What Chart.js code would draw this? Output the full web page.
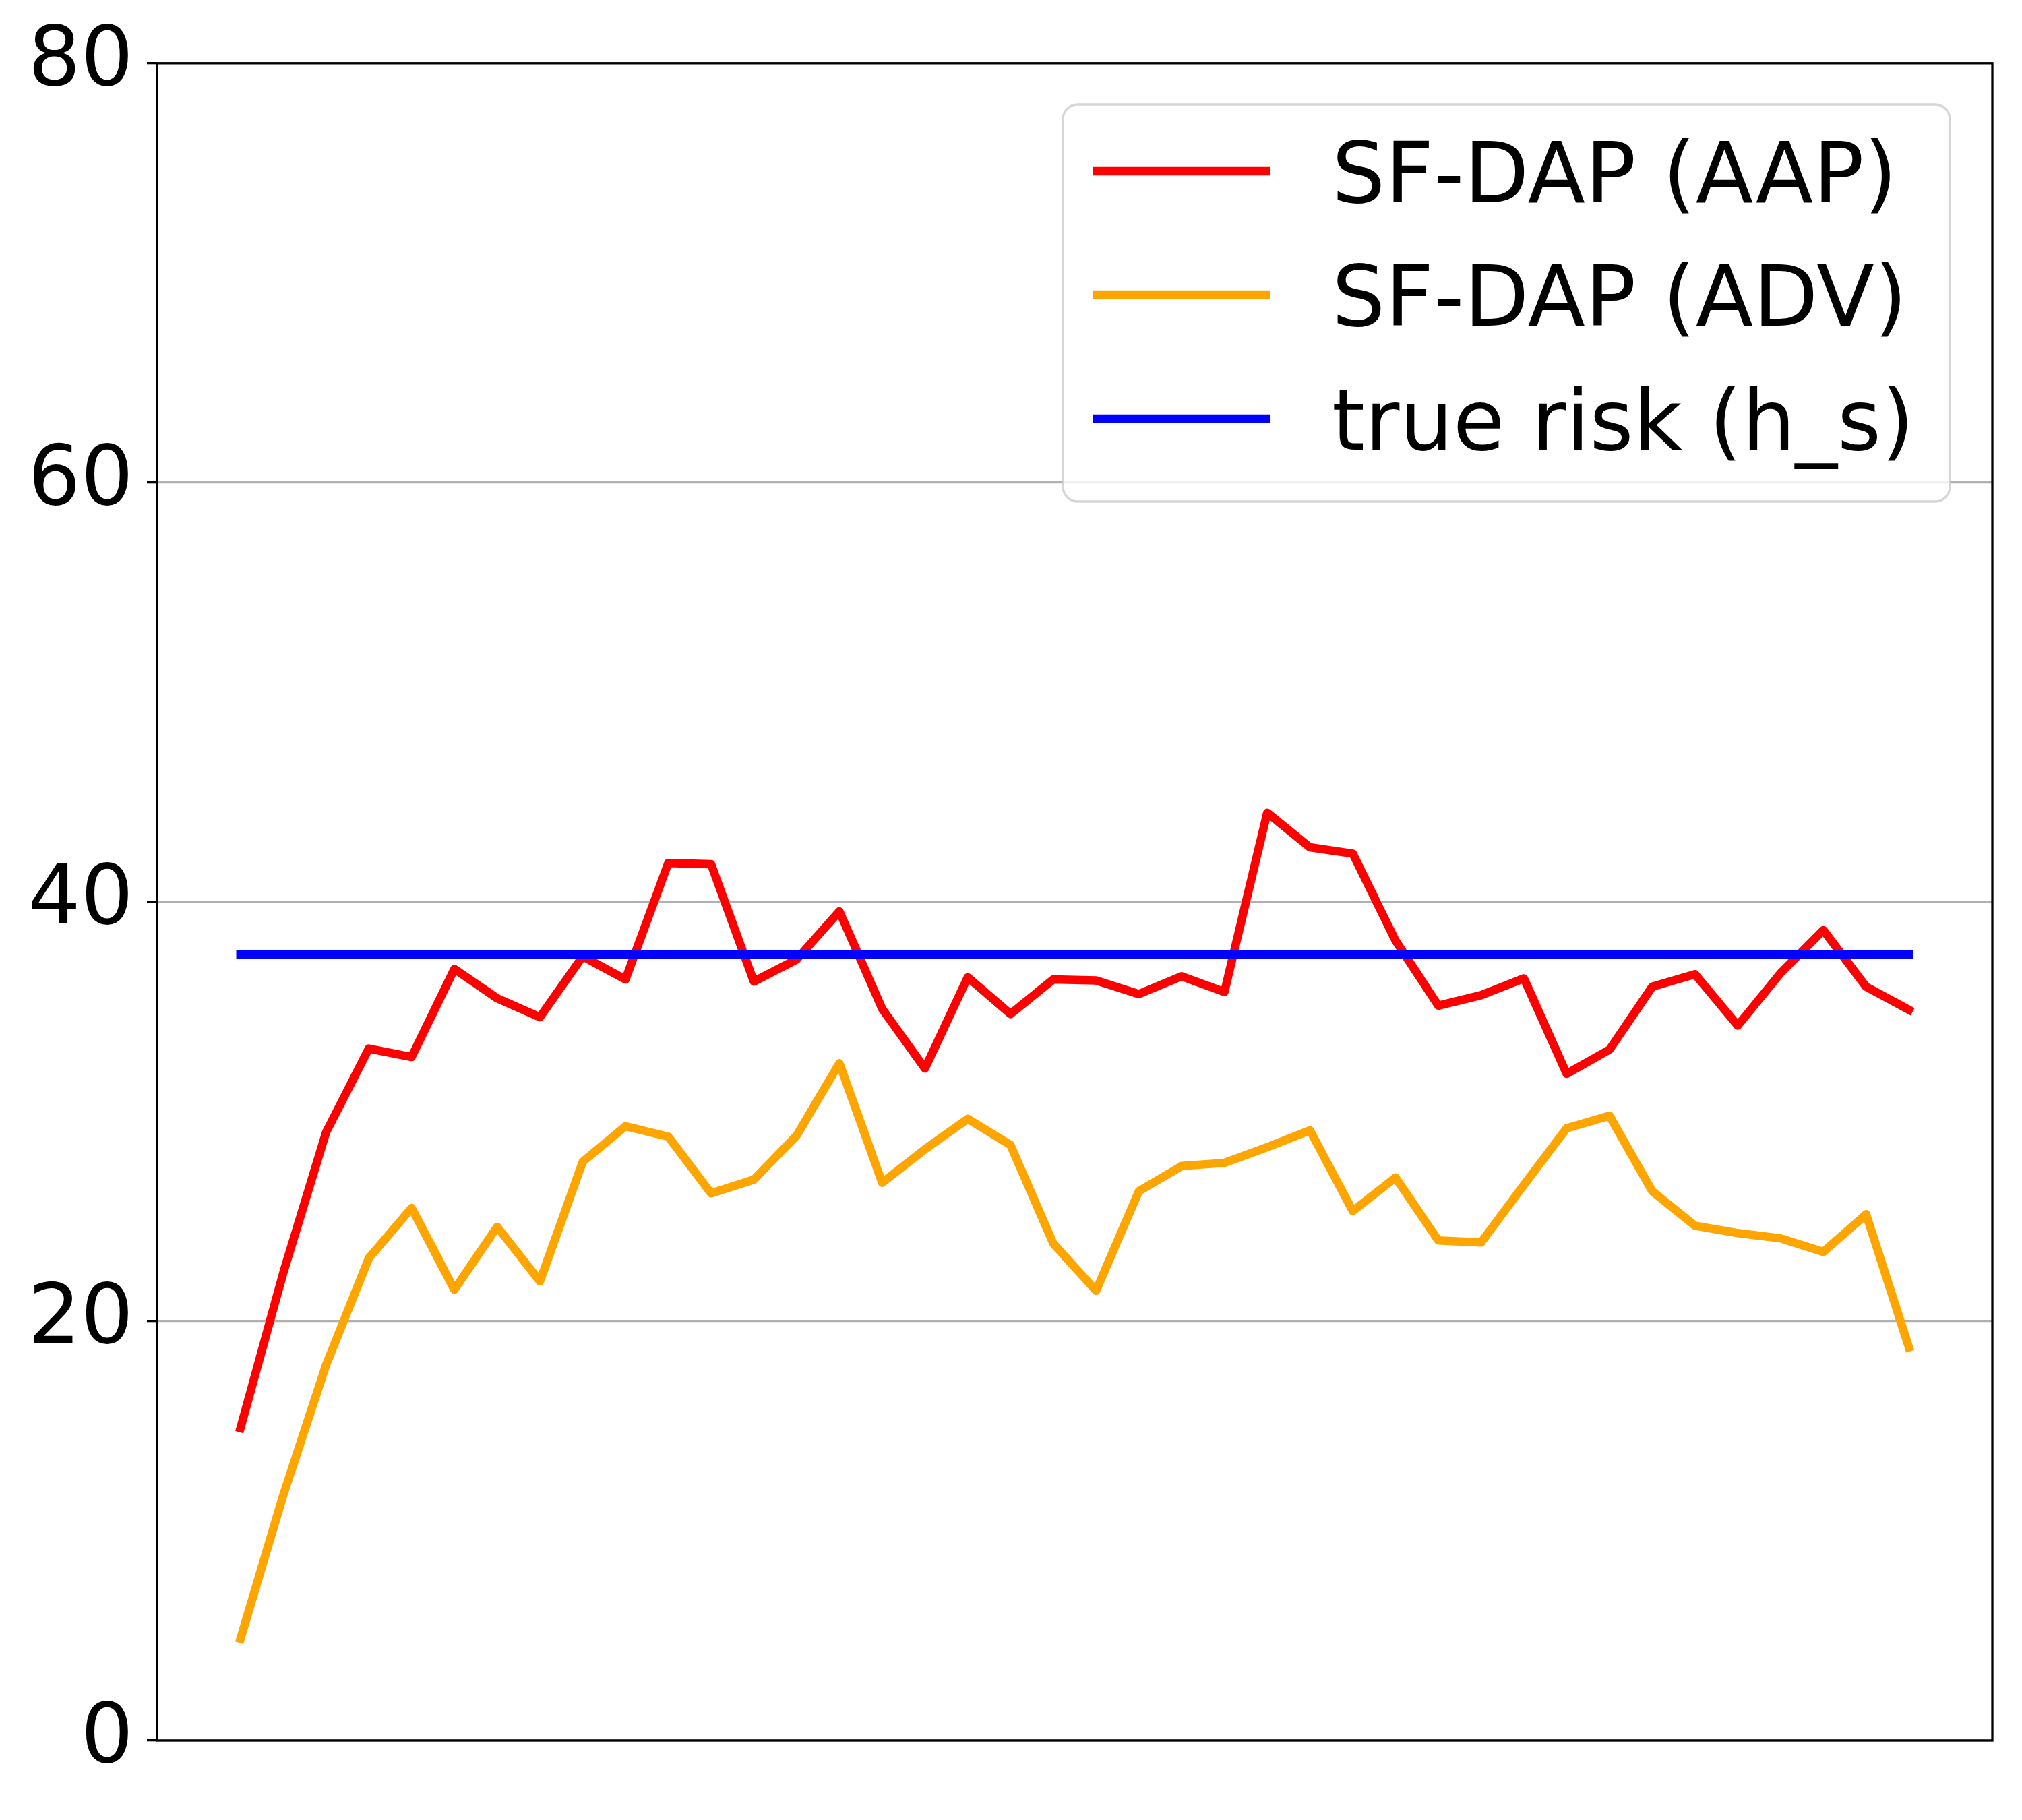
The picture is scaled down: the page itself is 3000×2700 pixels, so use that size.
<!DOCTYPE html>
<html>
<head>
<meta charset="utf-8">
<script src="https://cdn.jsdelivr.net/npm/chart.js@4/dist/chart.umd.min.js"></script>
<style>
  html, body { margin: 0; padding: 0; background: #ffffff; }
  #wrap { width: 3000px; height: 2700px; }
  canvas { display: block; }
</style>
</head>
<body>
<div id="wrap"><canvas id="c" width="3000" height="2700" style="width:3000px;height:2700px"></canvas></div>
<script>
// ---- data ----
const iterations = [1,2,3,4,5,6,7,8,9,10,11,12,13,14,15,16,17,18,19,20,
                    21,22,23,24,25,26,27,28,29,30,31,32,33,34,35,36,37,38,39,40];
const sfdapAAP = [14.9, 22.3, 29.0, 33.0, 32.6, 36.8, 35.4, 34.5, 37.4, 36.3,
                  41.85, 41.8, 36.2, 37.25, 39.55, 34.9, 32.05, 36.4, 34.65, 36.3,
                  36.25, 35.6, 36.45, 35.7, 44.25, 42.6, 42.3, 38.15, 35.05, 35.55,
                  36.35, 31.8, 32.95, 35.95, 36.55, 34.1, 36.6, 38.65, 35.95, 34.85];
const sfdapADV = [4.85, 11.7, 17.9, 23.0, 25.4, 21.5, 24.5, 21.9, 27.6, 29.3,
                  28.8, 26.1, 26.75, 28.85, 32.3, 26.6, 28.2, 29.65, 28.4, 23.7,
                  21.45, 26.2, 27.4, 27.55, 28.3, 29.1, 25.25, 26.85, 23.85, 23.75,
                  26.5, 29.2, 29.8, 26.2, 24.55, 24.2, 23.95, 23.3, 25.1, 18.75];
const trueRisk = [37.5, 37.5, 37.5, 37.5, 37.5, 37.5, 37.5, 37.5, 37.5, 37.5,
                  37.5, 37.5, 37.5, 37.5, 37.5, 37.5, 37.5, 37.5, 37.5, 37.5,
                  37.5, 37.5, 37.5, 37.5, 37.5, 37.5, 37.5, 37.5, 37.5, 37.5,
                  37.5, 37.5, 37.5, 37.5, 37.5, 37.5, 37.5, 37.5, 37.5, 37.5];
const seriesLabels = ['SF-DAP (AAP)', 'SF-DAP (ADV)', 'true risk (h_s)'];
const yTicks = [0, 20, 40, 60, 80];

// ---- styles ----
const FONT = '"DejaVu Sans", "Liberation Sans", sans-serif';
const colors = ['#ff0000', '#ffa500', '#0000ff'];
const LW = 12.5;
const AXLW = 3.3;

const framePlugin = {
  id: 'frame',
  afterDatasetsDraw(chart) {
    const { ctx, chartArea: a } = chart;
    ctx.save();
    ctx.strokeStyle = '#000000';
    ctx.lineWidth = AXLW;
    ctx.lineJoin = 'miter';
    ctx.strokeRect(a.left, a.top, a.right - a.left, a.bottom - a.top);
    ctx.restore();
  }
};

const legendPlugin = {
  id: 'mplLegend',
  afterDraw(chart) {
    const { ctx } = chart;
    const x0 = 1577, y0 = 155, x1 = 2893, y1 = 744, r = 22;
    ctx.save();
    ctx.beginPath();
    ctx.moveTo(x0 + r, y0);
    ctx.lineTo(x1 - r, y0);
    ctx.arcTo(x1, y0, x1, y0 + r, r);
    ctx.lineTo(x1, y1 - r);
    ctx.arcTo(x1, y1, x1 - r, y1, r);
    ctx.lineTo(x0 + r, y1);
    ctx.arcTo(x0, y1, x0, y1 - r, r);
    ctx.lineTo(x0, y0 + r);
    ctx.arcTo(x0, y0, x0 + r, y0, r);
    ctx.closePath();
    ctx.fillStyle = 'rgba(255,255,255,0.8)';
    ctx.fill();
    ctx.strokeStyle = 'rgba(204,204,204,0.8)';
    ctx.lineWidth = AXLW;
    ctx.stroke();

    const rows = [254, 437, 621];
    const fs = 125;
    ctx.font = fs + 'px ' + FONT;
    ctx.textAlign = 'left';
    ctx.textBaseline = 'alphabetic';
    chart.data.datasets.forEach((ds, i) => {
      const yy = rows[i];
      ctx.beginPath();
      ctx.strokeStyle = ds.borderColor;
      ctx.lineWidth = LW;
      ctx.lineCap = 'butt';
      ctx.moveTo(1621, yy);
      ctx.lineTo(1885, yy);
      ctx.stroke();
      ctx.fillStyle = '#000000';
      ctx.fillText(ds.label, 1976, yy + 0.729 * fs / 2);
    });
    ctx.restore();
  }
};

const ctx = document.getElementById('c').getContext('2d');
new Chart(ctx, {
  type: 'line',
  data: {
    labels: iterations,
    datasets: [
      { label: seriesLabels[0], data: sfdapAAP, borderColor: colors[0], backgroundColor: colors[0], order: 3 },
      { label: seriesLabels[1], data: sfdapADV, borderColor: colors[1], backgroundColor: colors[1], order: 2 },
      { label: seriesLabels[2], data: trueRisk, borderColor: colors[2], backgroundColor: colors[2], order: 1 }
    ]
  },
  options: {
    responsive: false,
    devicePixelRatio: 1,
    animation: false,
    layout: { padding: { top: 93, right: 44, bottom: 118, left: 0 } },
    elements: {
      line: { borderWidth: LW, tension: 0, borderCapStyle: 'square', borderJoinStyle: 'round', fill: false },
      point: { radius: 0, hoverRadius: 0 }
    },
    plugins: {
      legend: { display: false },
      tooltip: { enabled: false }
    },
    scales: {
      x: {
        type: 'linear',
        display: false,
        min: iterations[0] - 1.95,
        max: iterations[iterations.length - 1] + 1.95
      },
      y: {
        type: 'linear',
        min: 0,
        max: 80,
        afterFit(scale) { scale.width = 233; },
        afterBuildTicks(scale) { scale.ticks = yTicks.map(v => ({ value: v })); },
        ticks: {
          color: '#000000',
          font: { family: FONT, size: 123 },
          padding: 20
        },
        grid: {
          color: '#b0b0b0',
          lineWidth: AXLW,
          drawTicks: true,
          tickLength: 15,
          tickColor: '#000000',
          tickWidth: AXLW
        },
        border: { display: false }
      }
    }
  },
  plugins: [framePlugin, legendPlugin]
});
</script>
</body>
</html>
